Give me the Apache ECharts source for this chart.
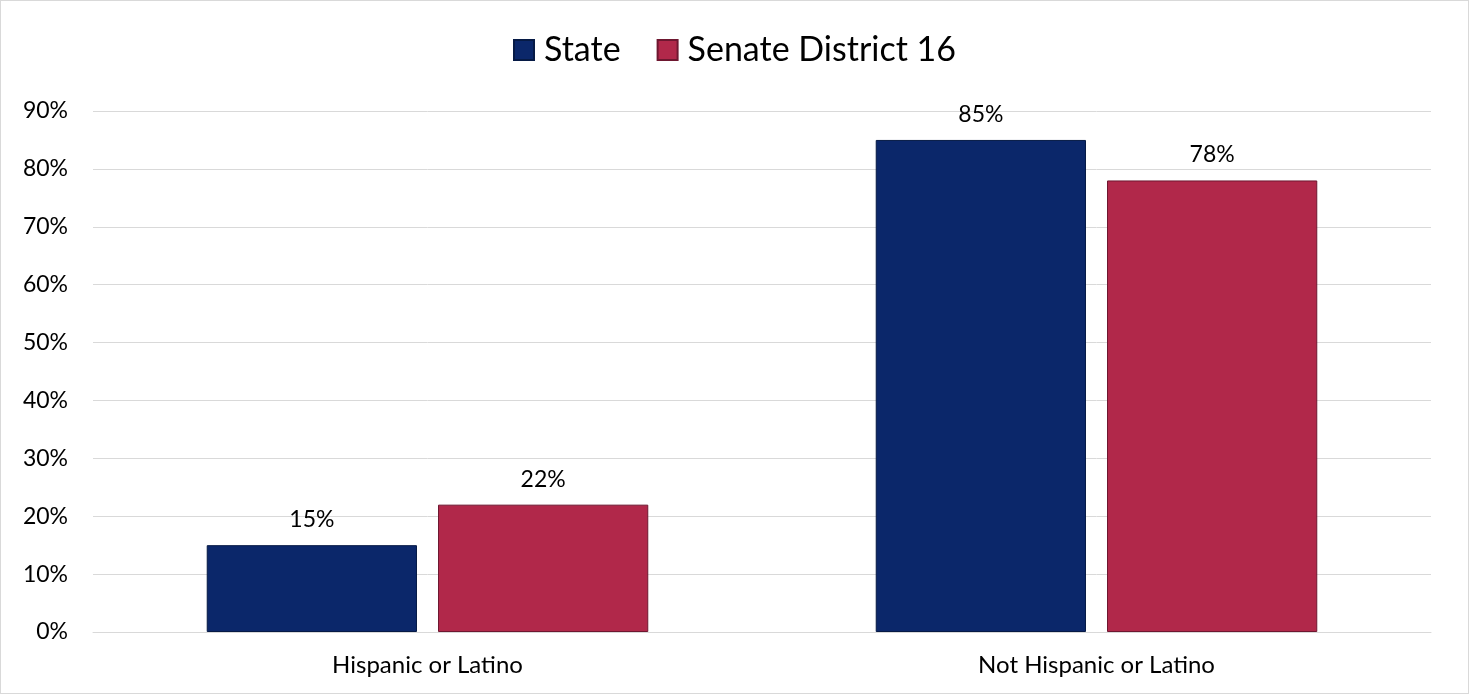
<!DOCTYPE html>
<html><head><meta charset="utf-8">
<script src="https://cdn.jsdelivr.net/npm/echarts@6/dist/echarts.min.js"></script>
<style>html,body{margin:0;padding:0;background:#fff}#c{width:1469px;height:694px;box-sizing:border-box;border:1px solid #d9d9d9}</style>
</head><body><div id="c"></div>
<script>
const categories = ["Hispanic or Latino", "Not Hispanic or Latino"];
const stateValues = [15, 85];
const districtValues = [22, 78];
const seriesNames = ["State", "Senate District 16"];

const font = "Lato, 'Open Sans', sans-serif";
const chart = echarts.init(document.getElementById('c'));
chart.setOption({
  animation: false,
  textStyle: {fontFamily: font},
  legend: {
    top: 27, left: 'center', icon: 'rect', itemWidth: 20, itemHeight: 20, itemGap: 36,
    textStyle: {fontSize: 34, color: '#000', fontFamily: font, padding: [0, 0, 0, 5]},
    data: seriesNames
  },
  grid: {left: 92, right: 37, top: 110, bottom: 61},
  xAxis: {
    type: 'category', data: categories,
    axisLine: {lineStyle: {color: '#d9d9d9'}},
    axisTick: {show: false},
    axisLabel: {fontSize: 24, color: '#000', margin: 21, fontFamily: font}
  },
  yAxis: {
    type: 'value', min: 0, max: 90, interval: 10,
    axisLine: {show: false}, axisTick: {show: false},
    splitLine: {lineStyle: {color: '#d9d9d9'}},
    axisLabel: {fontSize: 23, color: '#000', margin: 25, formatter: v => v + '%', fontFamily: font}
  },
  series: [
    {
      name: seriesNames[0], type: 'bar', data: stateValues,
      barGap: '10%', barCategoryGap: '34%',
      itemStyle: {color: '#0b276a', borderColor: '#061a45', borderWidth: 1},
      label: {show: true, position: 'top', distance: 14, fontSize: 23, color: '#000', formatter: '{c}%', fontFamily: font}
    },
    {
      name: seriesNames[1], type: 'bar', data: districtValues,
      itemStyle: {color: '#b1284a', borderColor: '#6e1730', borderWidth: 1},
      label: {show: true, position: 'top', distance: 14, fontSize: 23, color: '#000', formatter: '{c}%', fontFamily: font}
    }
  ]
});
</script></body></html>
